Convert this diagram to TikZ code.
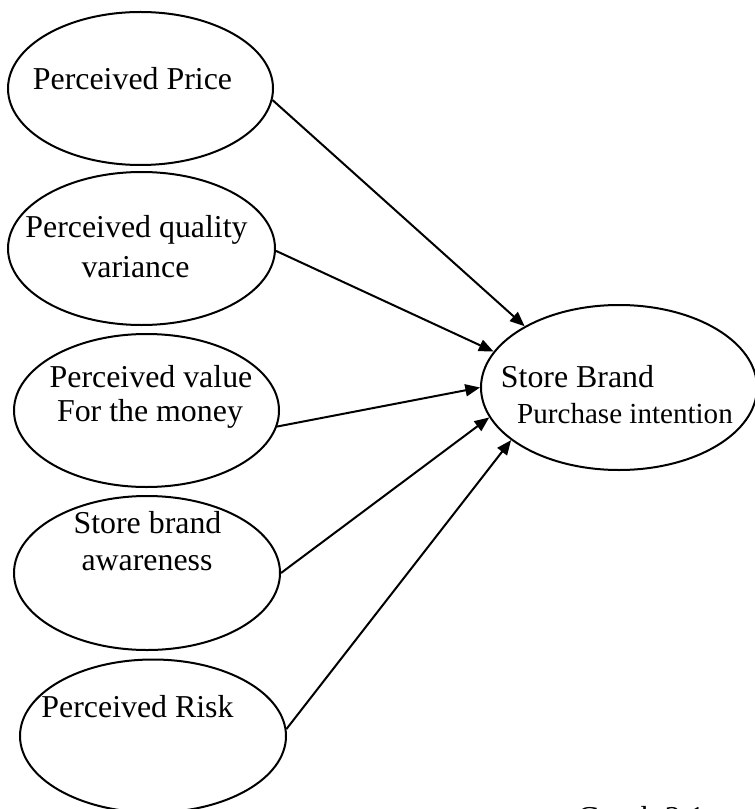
\documentclass[tikz,border=0pt]{standalone}
\usepackage{fontspec}
\setmainfont{Liberation Serif}
\usetikzlibrary{arrows.meta,shapes.geometric}
\begin{document}
\begin{tikzpicture}[x=0.75pt,y=-0.75pt,
  oval/.style={draw,ellipse,line width=1.5pt,inner sep=0pt},
  lbl/.style={anchor=base,inner sep=0pt,font=\fontsize{23.9}{28}\selectfont},
  lblsmall/.style={anchor=base,inner sep=0pt,font=\fontsize{21.8}{26}\selectfont},
  conn/.style={line width=1.5pt,-{Triangle[length=11pt,width=9pt]}}]
\useasboundingbox (0,0) rectangle (755,809);
\clip (0,0) rectangle (755,809);
\node[oval,minimum width=198.75pt,minimum height=114.75pt] (e1) at (140.5,88.5) {};
\node[oval,minimum width=200.25pt,minimum height=114.75pt] (e2) at (141.5,248.5) {};
\node[oval,minimum width=198.75pt,minimum height=114.75pt] (e3) at (146.5,410.5) {};
\node[oval,minimum width=199.5pt,minimum height=115.5pt] (e4) at (147,573) {};
\node[oval,minimum width=199.5pt,minimum height=114.75pt] (e5) at (153,736) {};
\node[oval,minimum width=207pt,minimum height=123.75pt] (t) at (619,387.5) {};
\node[lbl] (l1) at (132.5,90) {Perceived Price};
\node[lbl] (l2a) at (136.5,238) {Perceived quality};
\node[lbl] (l2b) at (135.5,277) {variance};
\node[lbl] (l3a) at (151,387) {Perceived value};
\node[lbl] (l3b) at (150,421) {For the money};
\node[lbl] (l4a) at (147.5,533) {Store brand};
\node[lbl] (l4b) at (147,570) {awareness};
\node[lbl] (l5) at (137.5,717) {Perceived Risk};
\node[lbl] (lt1) at (577.5,387) {Store Brand};
\node[lblsmall] (lt2) at (625,423) {Purchase intention};
\node[lbl,anchor=base west] (cap) at (577,828) {Graph 2.1};
\draw[conn] (e1.-5.8) -- (t.147.7);
\draw[conn] (e2.-1.9) -- (t.164.9);
\draw[conn] (e3.-7.3) -- (t.180);
\draw[conn] (e4.0) -- (t.193.9);
\draw[conn] (e5.3.5) -- (t.206.8);
\end{tikzpicture}
\end{document}
